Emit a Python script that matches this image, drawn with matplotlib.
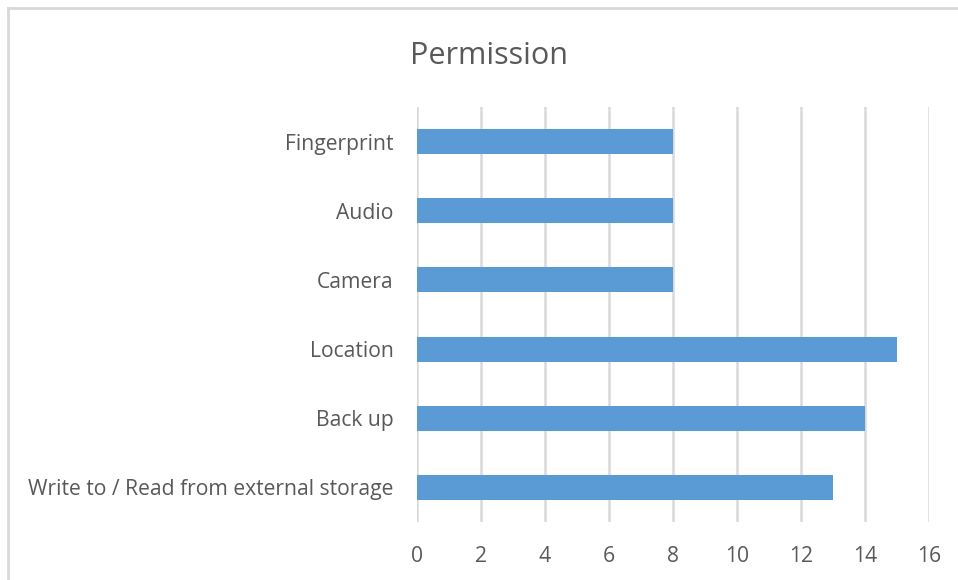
import matplotlib.pyplot as plt
from matplotlib.lines import Line2D

categories = ['Write to / Read from external storage', 'Back up', 'Location',
              'Camera', 'Audio', 'Fingerprint']
counts = [13, 14, 15, 8, 8, 8]
xticks = [0, 2, 4, 6, 8, 10, 12, 14, 16]

plt.rcParams['font.family'] = ['Open Sans', 'DejaVu Sans']
textColor = '#595959'

fig = plt.figure(figsize=(9.58, 5.8), dpi=100)
ax = fig.add_axes([417/958, 1-522/580, 512/958, 415/580])

ax.barh(range(len(categories)), counts, height=0.36, color='#5B9BD5', zorder=3)
ax.set_xlim(0, 16)
ax.set_ylim(-0.5, len(categories)-0.5)
ax.set_xticks(xticks)
ax.set_yticks(range(len(categories)))
ax.set_yticklabels(categories)
ax.grid(axis='x', color='#D9D9D9', linewidth=1.8, zorder=0)
ax.tick_params(length=0, labelsize=15.2, colors=textColor)
ax.tick_params(axis='x', pad=17)
ax.tick_params(axis='y', pad=17)
for s in ax.spines.values():
    s.set_visible(False)

fig.text(489/958, 1-56/580, 'Permission', ha='center', va='center',
         fontsize=22, color=textColor)

# chart frame, only left and top edges are visible in the screenshot
fig.add_artist(Line2D([8/958, 8/958], [0, 1-8/580], color='#D9D9D9', linewidth=2))
fig.add_artist(Line2D([8/958, 1], [1-8/580, 1-8/580], color='#D9D9D9', linewidth=2))

fig.savefig('out.png', dpi=100)
